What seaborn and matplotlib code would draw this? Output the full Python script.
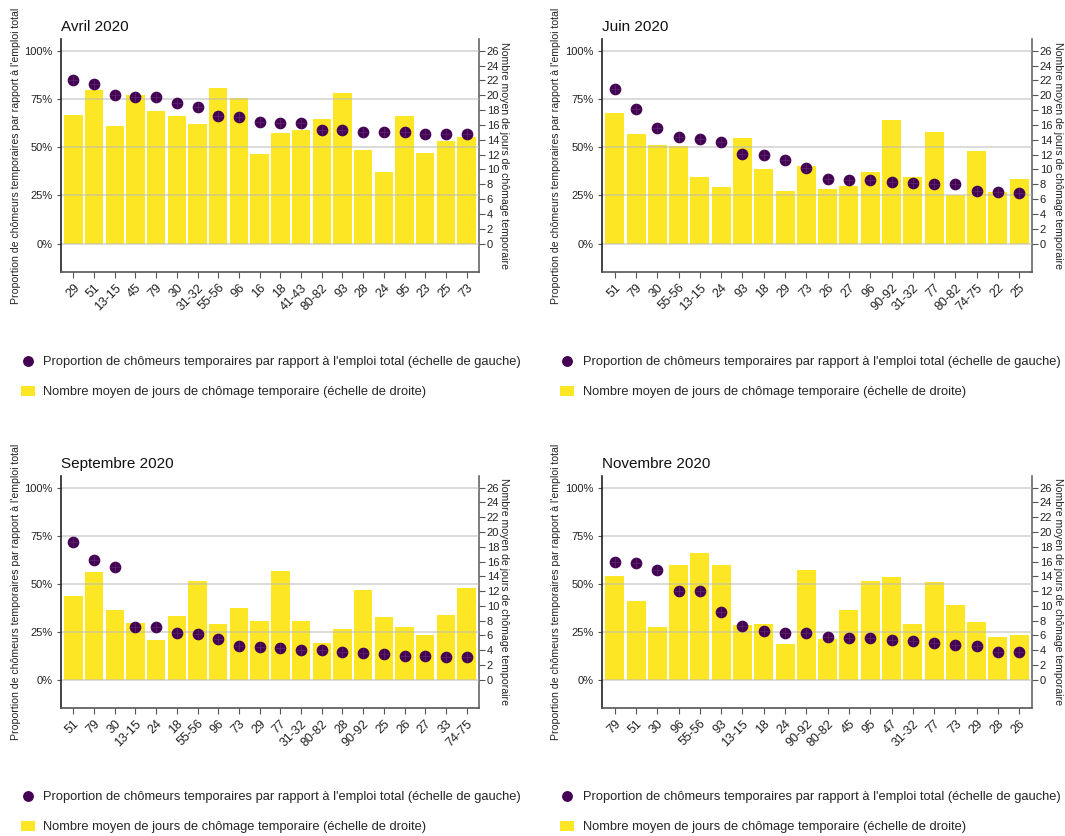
import matplotlib
matplotlib.use("Agg")
import matplotlib.pyplot as plt
import seaborn as sns
import pandas as pd
from matplotlib.lines import Line2D
from matplotlib.patches import Patch
from matplotlib.ticker import PercentFormatter

sns.set_theme(style="white")
plt.rcParams['font.family'] = ['Liberation Sans', 'DejaVu Sans']

# --- data: province / arrondissement codes, share of temporary unemployed
#     in total employment, and average number of days of temporary unemployment
avril_regions = ["29", "51", "13-15", "45", "79", "30", "31-32", "55-56", "96", "16",
                 "18", "41-43", "80-82", "93", "28", "24", "95", "23", "25", "73"]
avril_share = [0.848, 0.827, 0.773, 0.761, 0.758, 0.727, 0.706, 0.661, 0.657, 0.633,
               0.626, 0.623, 0.588, 0.588, 0.580, 0.580, 0.580, 0.571, 0.571, 0.567]
avril_days = [17.4, 20.7, 15.8, 20.0, 17.9, 17.2, 16.1, 21.0, 19.7, 12.1,
              14.9, 15.3, 16.8, 20.3, 12.6, 9.6, 17.2, 12.2, 13.9, 14.4]

juin_regions = ["51", "79", "30", "55-56", "13-15", "24", "93", "18", "29", "73",
                "26", "27", "96", "90-92", "31-32", "77", "80-82", "74-75", "22", "25"]
juin_share = [0.804, 0.696, 0.597, 0.555, 0.542, 0.529, 0.464, 0.457, 0.436, 0.394,
              0.336, 0.332, 0.329, 0.318, 0.315, 0.311, 0.308, 0.273, 0.266, 0.263]
juin_days = [17.6, 14.8, 13.3, 13.2, 9.0, 7.6, 14.3, 10.1, 7.1, 10.5,
             7.4, 7.8, 9.7, 16.6, 9.0, 15.1, 6.6, 12.5, 7.0, 8.7]

sept_regions = ["51", "79", "30", "13-15", "24", "18", "55-56", "96", "73", "29",
                "77", "31-32", "80-82", "28", "90-92", "25", "26", "27", "33", "74-75"]
sept_share = [0.716, 0.625, 0.587, 0.277, 0.277, 0.246, 0.240, 0.211, 0.176, 0.173,
              0.168, 0.156, 0.156, 0.142, 0.138, 0.135, 0.126, 0.125, 0.118, 0.118]
sept_days = [11.4, 14.6, 9.4, 7.7, 5.4, 8.7, 13.4, 7.6, 9.7, 8.0,
             14.7, 8.0, 5.0, 6.9, 12.1, 8.5, 7.2, 6.0, 8.8, 12.4]

nov_regions = ["79", "51", "30", "96", "55-56", "93", "13-15", "18", "24", "90-92",
               "80-82", "45", "95", "47", "31-32", "77", "73", "29", "28", "26"]
nov_share = [0.614, 0.606, 0.573, 0.464, 0.462, 0.353, 0.280, 0.253, 0.246, 0.244,
             0.221, 0.220, 0.216, 0.206, 0.201, 0.194, 0.182, 0.176, 0.145, 0.145]
nov_days = [14.1, 10.7, 7.2, 15.5, 17.1, 15.5, 7.4, 7.6, 4.9, 14.8,
            5.5, 9.5, 13.4, 13.9, 7.6, 13.3, 10.1, 7.8, 5.8, 6.1]

titles = ["Avril 2020", "Juin 2020", "Septembre 2020", "Novembre 2020"]

LEFT_LABEL = "Proportion de chômeurs temporaires par rapport à l'emploi total"
RIGHT_LABEL = "Nombre moyen de jours de chômage temporaire"
LEG_SHARE = "Proportion de chômeurs temporaires par rapport à l'emploi total (échelle de gauche)"
LEG_DAYS = "Nombre moyen de jours de chômage temporaire (échelle de droite)"

PURPLE = "#440154"
YELLOW = "#FDE725"
DAYS_PER_UNIT = 26          # 26 days on the right axis line up with 100 % on the left
YMIN, YMAX = -0.147, 1.061

W, H = 1065, 836
fig = plt.figure(figsize=(W / 100, H / 100), dpi=100)


def frac_rect(x0, x1, ytop, ybot):
    return [x0 / W, 1 - ybot / H, (x1 - x0) / W, (ybot - ytop) / H]


panels = [
    (titles[0], avril_regions, avril_share, avril_days, frac_rect(61, 479, 39, 272), (20.5, 356)),
    (titles[1], juin_regions, juin_share, juin_days, frac_rect(602, 1032, 39, 272), (560, 356)),
    (titles[2], sept_regions, sept_share, sept_days, frac_rect(61, 479, 476, 708), (20.5, 791)),
    (titles[3], nov_regions, nov_share, nov_days, frac_rect(602, 1032, 476, 708), (560, 791)),
]

for title, regions, share, days, rect, leg_pos in panels:
    df = pd.DataFrame({"region": regions, "share": share, "days": days})
    ax = fig.add_axes(rect)
    ax2 = ax.twinx()

    # bars: average days (right scale)
    sns.barplot(data=df, x="region", y="days", order=regions, ax=ax2,
                color=YELLOW, saturation=1, width=0.89, edgecolor="none")
    # points: share of temporary unemployment (left scale)
    sns.stripplot(data=df, x="region", y="share", order=regions, ax=ax,
                  color=PURPLE, size=8.4, jitter=False, linewidth=0, zorder=3)
    sns.stripplot(data=df, x="region", y="share", order=regions, ax=ax,
                  color="#57276b", size=7, jitter=False, marker="+",
                  linewidth=0.6, zorder=4)

    ax.set_zorder(ax2.get_zorder() + 1)
    ax.patch.set_visible(False)

    n = len(regions)
    ax.set_xlim(-0.6, n - 0.4)
    ax.set_ylim(YMIN, YMAX)
    ax2.set_ylim(YMIN * DAYS_PER_UNIT, YMAX * DAYS_PER_UNIT)

    ax.set_yticks([0, 0.25, 0.5, 0.75, 1.0])
    ax.yaxis.set_major_formatter(PercentFormatter(1, decimals=0))
    ax2.set_yticks(list(range(0, 27, 2)))

    ax.set_xticks(range(n))
    ax.set_xticklabels(regions, rotation=45, ha="right", rotation_mode="anchor")

    ax.grid(axis="y", color="#b8b8b8", alpha=0.6, linewidth=1.2)
    ax.grid(axis="x", visible=False)
    ax2.grid(False)

    ax.tick_params(axis="y", left=True, length=3, width=0.8, color="#555555",
                   pad=3, labelsize=8, labelcolor="#222222")
    ax.tick_params(axis="x", bottom=True, length=4, width=0.8, color="#555555",
                   pad=3, labelsize=9, labelcolor="#222222")
    ax2.tick_params(axis="y", right=True, length=4, width=0.8, color="#555555",
                    pad=1.5, labelsize=8, labelcolor="#222222")

    for side in ("top", "right"):
        ax.spines[side].set_visible(False)
    for side in ("top", "left", "bottom"):
        ax2.spines[side].set_visible(False)
    ax.spines["left"].set_color("#222222")
    ax.spines["left"].set_linewidth(1.2)
    ax.spines["bottom"].set_color("#555555")
    ax.spines["bottom"].set_linewidth(1.2)
    ax2.spines["right"].set_color("#666666")
    ax2.spines["right"].set_linewidth(1.2)

    ax.set_xlabel("")
    ax2.set_xlabel("")
    ax.set_ylabel(LEFT_LABEL, fontsize=7.6, color="#222222")
    ax.yaxis.set_label_coords(-0.095, 0.5)
    ax2.set_ylabel(RIGHT_LABEL, fontsize=7.6, color="#222222", rotation=270,
                   va="center", ha="center")
    ax2.yaxis.set_label_coords(1.06, 0.5)

    ax.set_title(title, loc="left", fontsize=11, color="#111111", pad=6)

    handles = [
        Line2D([], [], marker="o", linestyle="none", markersize=6.8,
               markerfacecolor=PURPLE, markeredgecolor=PURPLE),
        Patch(facecolor=YELLOW, edgecolor="none"),
    ]
    fig.legend(handles, [LEG_SHARE, LEG_DAYS], loc="upper left",
               bbox_to_anchor=(leg_pos[0] / W, 1 - leg_pos[1] / H),
               frameon=False, fontsize=9.3, handlelength=1.1, handleheight=0.75,
               handletextpad=0.65, labelspacing=1.38, borderaxespad=0, borderpad=0)

fig.savefig("out.png", dpi=100)
